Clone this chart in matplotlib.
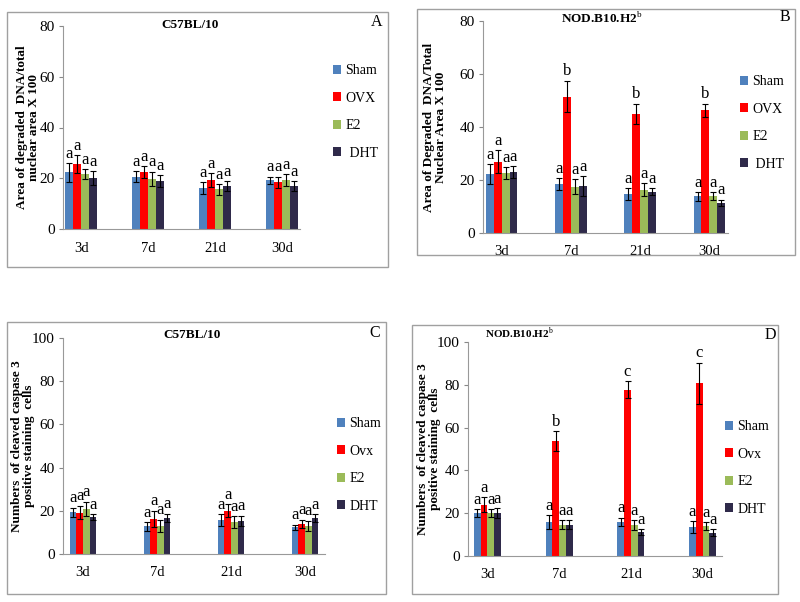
import numpy as np
import matplotlib
matplotlib.use("Agg")
from matplotlib import pyplot as plt
from matplotlib.patches import Rectangle

plt.rcParams['font.family'] = ['Liberation Serif', 'DejaVu Serif']
plt.rcParams['mathtext.fontset'] = 'custom'
plt.rcParams['mathtext.rm'] = 'Liberation Serif'
plt.rcParams['mathtext.bf'] = 'Liberation Serif:bold'

W, H = 800, 602
days = ["3d", "7d", "21d", "30d"]
colors = ["#4f81bd", "#ff0000", "#9bbb59", "#2f2a4a"]

# panel A: C57BL/10, degraded DNA area
a_sham = [22.3, 20.6, 16.1, 19.2]; a_sham_err = [3.6, 2.2, 2.3, 1.4]
a_ovx = [25.6, 22.4, 19.2, 18.4]; a_ovx_err = [3.5, 2.4, 2.7, 2.2]
a_e2 = [21.6, 19.7, 15.6, 19.3]; a_e2_err = [2.0, 2.9, 2.1, 2.2]
a_dht = [20.1, 18.9, 16.9, 16.9]; a_dht_err = [2.6, 2.4, 1.9, 1.9]
a_letters = [["a"] * 4] * 4

# panel B: NOD.B10.H2b, degraded DNA area
b_sham = [22.3, 18.5, 14.8, 13.8]; b_sham_err = [3.7, 2.1, 2.2, 1.7]
b_ovx = [26.9, 51.5, 45.0, 46.3]; b_ovx_err = [4.4, 6.0, 3.8, 2.5]
b_e2 = [22.5, 17.5, 16.3, 14.0]; b_e2_err = [2.3, 2.8, 2.5, 1.4]
b_dht = [23.1, 17.8, 15.6, 11.3]; b_dht_err = [2.2, 3.7, 1.3, 1.3]
b_letters = [["a"] * 4, ["a", "b", "b", "b"], ["a"] * 4, ["a"] * 4]

# panel C: C57BL/10, cleaved caspase 3
c_sham = [19.4, 12.8, 15.8, 12.3]; c_sham_err = [2.1, 2.0, 2.7, 1.2]
c_ovx = [19.2, 16.3, 20.0, 14.0]; c_ovx_err = [3.1, 3.7, 3.1, 1.8]
c_e2 = [20.9, 13.1, 14.8, 13.1]; c_e2_err = [3.4, 2.7, 2.6, 2.3]
c_dht = [17.1, 16.6, 15.4, 16.6]; c_dht_err = [1.4, 2.0, 2.3, 1.9]
c_letters = [["a"] * 4] * 4

# panel D: NOD.B10.H2b, cleaved caspase 3
d_sham = [20.0, 15.9, 15.9, 13.5]; d_sham_err = [1.8, 3.1, 2.0, 2.8]
d_ovx = [24.0, 53.7, 77.6, 80.7]; d_ovx_err = [3.5, 4.6, 4.0, 9.7]
d_e2 = [20.0, 14.6, 14.3, 14.0]; d_e2_err = [1.8, 2.0, 2.3, 1.9]
d_dht = [20.0, 14.6, 11.2, 10.9]; d_dht_err = [2.4, 2.0, 1.4, 1.7]
d_letters = [["a"] * 4, ["a", "b", "c", "c"], ["a"] * 4, ["a"] * 4]


def box(l, t, r, b):
    return [l / W, 1 - b / H, (r - l) / W, (b - t) / H]


fig = plt.figure(figsize=(8, 6.02), dpi=100)

nod = "NOD.B10.H2$^{\\mathrm{b}}$"
panels = [
    dict(frame=(7, 12, 388, 267), ax=(63, 26, 300, 229), ymax=80, step=20, bw=0.12,
         series=[(a_sham, a_sham_err), (a_ovx, a_ovx_err), (a_e2, a_e2_err), (a_dht, a_dht_err)],
         letters=a_letters, labels=["Sham", "OVX", "E2", " DHT"],
         title="C57BL/10", tpos=(190, 25), tsize=9.5, tag="A", tagpos=(377, 22),
         ylabel="Area of degraded  DNA/total\nnuclear area X 100", ylx=28, leg=(333, 64)),
    dict(frame=(417, 9, 795, 255), ax=(483, 21, 728, 233), ymax=80, step=20, bw=0.113,
         series=[(b_sham, b_sham_err), (b_ovx, b_ovx_err), (b_e2, b_e2_err), (b_dht, b_dht_err)],
         letters=b_letters, labels=["Sham", "OVX", "E2", " DHT"],
         title=nod, tpos=(602, 18), tsize=9.5, tag="B", tagpos=(785, 17),
         ylabel="Area of Degraded  DNA/Total\nNuclear Area X 100", ylx=435, leg=(740, 75)),
    dict(frame=(7, 322, 386, 594), ax=(63, 338, 325, 554), ymax=100, step=20, bw=0.091,
         series=[(c_sham, c_sham_err), (c_ovx, c_ovx_err), (c_e2, c_e2_err), (c_dht, c_dht_err)],
         letters=c_letters, labels=["Sham", "Ovx", "E2", "DHT"],
         title="C57BL/10", tpos=(192, 335), tsize=9.5, tag="C", tagpos=(375, 333),
         ylabel="Numbers  of cleaved caspase 3\npositive staining  cells", ylx=23, leg=(337, 417)),
    dict(frame=(412, 325, 778, 594), ax=(468, 342, 722, 556), ymax=100, step=20, bw=0.094,
         series=[(d_sham, d_sham_err), (d_ovx, d_ovx_err), (d_e2, d_e2_err), (d_dht, d_dht_err)],
         letters=d_letters, labels=["Sham", "Ovx", "E2", "DHT"],
         title=nod, tpos=(519, 333), tsize=8, tag="D", tagpos=(770, 335),
         ylabel="Numbers  of cleaved caspase 3\npositive staining  cells", ylx=429, leg=(725, 420)),
]

x = np.arange(len(days))
for p in panels:
    fig.add_artist(Rectangle((p["frame"][0] / W, 1 - p["frame"][3] / H),
                             (p["frame"][2] - p["frame"][0]) / W, (p["frame"][3] - p["frame"][1]) / H,
                             transform=fig.transFigure, fill=False, edgecolor="#a0a0a0", lw=1))
    ax = fig.add_axes(box(*p["ax"]))
    bw = p["bw"]
    handles = []
    for i, (vals, errs) in enumerate(p["series"]):
        pos = x + (i - 1.5) * bw
        h = ax.bar(pos, vals, bw, yerr=errs, color=colors[i], label=p["labels"][i],
                   error_kw=dict(ecolor="black", elinewidth=0.8, capsize=2, capthick=0.8))
        handles.append(h)
        for j in range(len(days)):
            ax.annotate(p["letters"][i][j], (pos[j], vals[j] + errs[j]), xytext=(0, 1),
                        textcoords="offset points", ha="center", va="bottom", fontsize=12)
    ax.set_xlim(-0.27, 3.27)
    ax.set_ylim(0, p["ymax"])
    ax.set_yticks(np.arange(0, p["ymax"] + 1, p["step"]))
    ax.set_xticks(x)
    ax.set_xticklabels(days)
    ax.tick_params(axis="x", length=0, pad=9, labelsize=10.5)
    ax.tick_params(axis="y", length=3, color="#888888", labelsize=11, pad=3)
    for s in ["top", "right"]:
        ax.spines[s].set_visible(False)
    for s in ["left", "bottom"]:
        ax.spines[s].set_color("#999999")
        ax.spines[s].set_linewidth(0.8)
    fig.text(p["tpos"][0] / W, 1 - p["tpos"][1] / H, p["title"], ha="center", va="center",
             fontsize=p["tsize"], fontweight="bold")
    fig.text(p["tagpos"][0] / W, 1 - p["tagpos"][1] / H, p["tag"], ha="center", va="center", fontsize=11.5)
    yc = (p["ax"][1] + p["ax"][3]) / 2
    fig.text(p["ylx"] / W, 1 - yc / H, p["ylabel"], rotation=90, ha="center", va="center",
             fontsize=9.5, fontweight="bold", linespacing=1.05)
    fig.legend(handles=handles, loc="upper left",
               bbox_to_anchor=(p["leg"][0] / W, 1 - p["leg"][1] / H), frameon=False,
               fontsize=10, handlelength=0.6, handleheight=0.6, handletextpad=0.3,
               labelspacing=1.05, borderaxespad=0, borderpad=0)

plt.savefig("out.png", dpi=100)
